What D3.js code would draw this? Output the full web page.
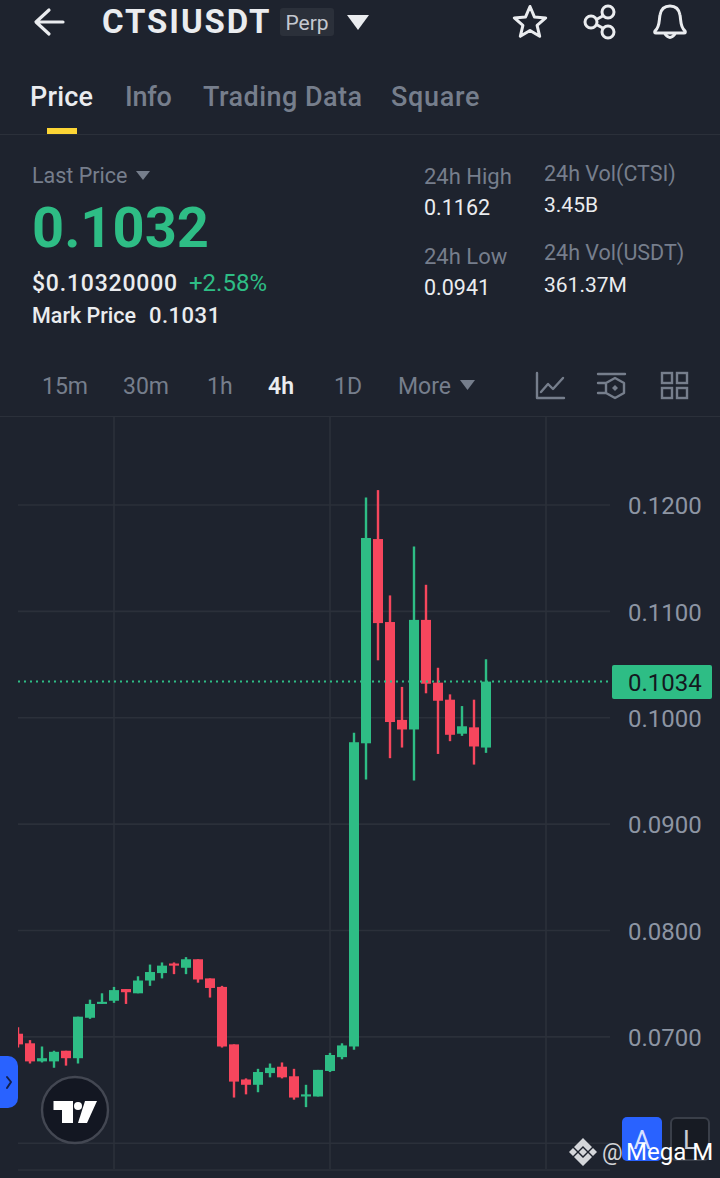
<!DOCTYPE html>
<html><head><meta charset="utf-8">
<script src="https://cdn.jsdelivr.net/npm/d3@7/dist/d3.min.js"></script>
<style>html,body{margin:0;padding:0;background:#1e232e}svg{display:block}text{font-family:Roboto,sans-serif}</style>
</head><body><svg id="c" width="720" height="1178"></svg>
<script>
const opens =[.0703,.0694,.0677,.0677,.0687,.0680,.0718,.0731,.0734,.0745,.0741,.0753,.0760,.0769,.0765,.0773,.0755,.0747,.0693,.0660,.0655,.0666,.0672,.0663,.0644,.0644,.0668,.0681,.0691,.0976,.1168,.1090,.0998,.0989,.1092,.1033,.1017,.0985,.0991,.0972];
const highs =[.0709,.0697,.0691,.0687,.0687,.0719,.0735,.0741,.0747,.0745,.0757,.0768,.0770,.0770,.0775,.0773,.0755,.0748,.0693,.0661,.0670,.0675,.0676,.0670,.0655,.0669,.0685,.0694,.0986,.1207,.1214,.1115,.1029,.1161,.1125,.1047,.1022,.1011,.1017,.1055];
const lows  =[.0690,.0675,.0676,.0671,.0673,.0675,.0717,.0731,.0732,.0731,.0741,.0748,.0755,.0759,.0759,.0751,.0737,.0690,.0643,.0646,.0648,.0662,.0661,.0641,.0634,.0644,.0667,.0679,.0688,.0942,.1054,.0962,.0972,.0941,.1023,.0966,.0978,.0983,.0956,.0967];
const closes=[.0693,.0677,.0680,.0686,.0680,.0719,.0731,.0733,.0744,.0742,.0753,.0761,.0767,.0767,.0773,.0754,.0746,.0691,.0658,.0655,.0667,.0671,.0662,.0643,.0646,.0669,.0683,.0692,.0977,.1169,.1089,.0996,.0989,.1092,.1032,.1016,.0984,.0992,.0973,.1034];
const priceTicks=[.06,.07,.08,.09,.10,.11,.12];
const labelledTicks=[.07,.08,.09,.10,.11,.12];
const lastPrice=.1034;
const tabs=["Price","Info","Trading Data","Square"];
const intervals=["15m","30m","1h","4h","1D","More"];

const GREEN="#2ebd85",RED="#f6465d",GRID="#2b303a",BG="#1e232e",MUTED="#767e8c";
const svg=d3.select("#c");
svg.append("rect").attr("width",720).attr("height",1178).attr("fill",BG);
function T(x,y,s,size,fill,weight,anchor,ls){return svg.append("text").attr("x",x).attr("y",y).text(s).attr("font-size",size).attr("fill",fill).attr("font-weight",weight||400).attr("text-anchor",anchor||"start").attr("letter-spacing",ls||0);}
function P(d,stroke,w,fill){return svg.append("path").attr("d",d).attr("stroke",stroke||"none").attr("stroke-width",w||0).attr("fill",fill||"none").attr("stroke-linecap","round").attr("stroke-linejoin","round");}

// header
P("M63,22H37M49,10L36,22L49,34","#eaecef",3.2);
T(102,33,"CTSIUSDT",33,"#eaecef",700,"start",1.9);
svg.append("rect").attr("x",280).attr("y",8).attr("width",54).attr("height",28).attr("rx",3).attr("fill","#2b303a");
T(307,30,"Perp",21,"#c4c8d0",400,"middle");
P("M347,15H369L358,30Z",null,0,"#eaecef");
P(d3.range(10).map(i=>{const r=i%2?7.5:16.5,a=-Math.PI/2+i*Math.PI/5;return (i?"L":"M")+(530+r*Math.cos(a)).toFixed(1)+","+(23+r*Math.sin(a)).toFixed(1)}).join("")+"Z","#eaecef",3);
P("M608,13L592,22L608,31","#eaecef",3);
[[608,12],[591,22],[608,32]].forEach(c=>svg.append("circle").attr("cx",c[0]).attr("cy",c[1]).attr("r",6).attr("fill",BG).attr("stroke","#eaecef").attr("stroke-width",3));
P("M655,31C660,27 659,20 660,15C661,9 665,6 670,6C675,6 679,9 680,15C681,20 680,27 685,31Q686,33 684,33H656Q654,33 655,31ZM665,34Q670,41 675,34","#eaecef",3);

// tabs
const tabX=[30,125,203,391];
const tabLS=[.2,-.2,.45,.7];
tabs.forEach((t,i)=>T(tabX[i],106,t,27,i?MUTED:"#eaecef",500,"start",tabLS[i]));
svg.append("rect").attr("x",47).attr("y",128).attr("width",30).attr("height",6).attr("fill","#fcd535");
svg.append("rect").attr("x",0).attr("y",134).attr("width",720).attr("height",1).attr("fill",GRID);

// stats
T(32,183,"Last Price",21.5,MUTED);
P("M136,171H150L143,180Z",null,0,MUTED);
T(32,247,"0.1032",56,GREEN,700);
T(32,291,"$0.10320000",23,"#eaecef",500,"start",.8);
T(189,291,"+2.58%",24,GREEN);
T(32,323,"Mark Price",21.5,"#eaecef",500);
T(149,323,"0.1031",22,"#eaecef",500,"start",.5);
T(424,184,"24h High",22,MUTED);T(424,215,"0.1162",21.5,"#eaecef");
T(424,264,"24h Low",22,MUTED);T(424,295,"0.0941",21.5,"#eaecef");
T(544,181,"24h Vol(CTSI)",21.5,MUTED);T(544,212,"3.45B",21,"#eaecef");
T(544,260,"24h Vol(USDT)",21.5,MUTED);T(544,292,"361.37M",21,"#eaecef");

// intervals
const intX=[42,123,207,268,334,398];
intervals.forEach((t,i)=>T(intX[i],394,t,23,i==3?"#eaecef":MUTED,i==3?600:400));
P("M460,380H475L467.5,390Z",null,0,MUTED);
P("M537,373V398H564M541,392L548,384L553,389L563,378",MUTED,2.4);
P("M598,374H625M598,383H606M598,393H606M615,378L624,383V393L615,398L606,393V383Z",MUTED,2.4);
P("M615,385L618,388L615,391L612,388Z",null,0,MUTED);
[[661,372],[676,372],[661,387],[676,387]].forEach(c=>svg.append("rect").attr("x",c[0]+1).attr("y",c[1]+1).attr("width",10).attr("height",10).attr("fill","none").attr("stroke",MUTED).attr("stroke-width",2.4));
svg.append("rect").attr("x",0).attr("y",416).attr("width",720).attr("height",1).attr("fill",GRID);

// chart
const x=d3.scaleLinear().domain([0,39]).range([18,486]);
const y=d3.scaleLinear().domain([.06,.12]).range([1143.3,505]);
const g=svg.append("g");
svg.append("defs").append("clipPath").attr("id","plot").append("rect").attr("x",18).attr("y",417).attr("width",592).attr("height",761);
[8,26,44].forEach(i=>g.append("line").attr("x1",x(i)).attr("x2",x(i)).attr("y1",417).attr("y2",1169).attr("stroke",GRID).attr("stroke-width",1.6));
g.selectAll("line.h").data(priceTicks).join("line").attr("class","h").attr("x1",18).attr("x2",610).attr("y1",d=>y(d)).attr("y2",d=>y(d)).attr("stroke",GRID).attr("stroke-width",1.6);
g.append("line").attr("x1",18).attr("x2",610).attr("y1",1170).attr("y2",1170).attr("stroke",GRID).attr("stroke-width",1.6);

const candles=opens.map((o,i)=>({i,o,h:highs[i],l:lows[i],c:closes[i]}));
const cg=svg.append("g").attr("clip-path","url(#plot)");
const col=d=>d.c>=d.o?GREEN:RED;
cg.selectAll("line").data(candles).join("line").attr("x1",d=>x(d.i)).attr("x2",d=>x(d.i)).attr("y1",d=>y(d.h)).attr("y2",d=>y(d.l)).attr("stroke",col).attr("stroke-width",2.4);
cg.selectAll("rect").data(candles).join("rect").attr("x",d=>x(d.i)-5).attr("width",10).attr("y",d=>y(Math.max(d.o,d.c))).attr("height",d=>Math.max(2,Math.abs(y(d.o)-y(d.c)))).attr("fill",col);

svg.append("line").attr("x1",18).attr("x2",610).attr("y1",y(lastPrice)).attr("y2",y(lastPrice)).attr("stroke",GREEN).attr("stroke-width",2).attr("stroke-dasharray","2 4");

const ax=svg.append("g").attr("transform","translate(616,1)").call(d3.axisRight(y).tickValues(labelledTicks).tickFormat(d3.format(".4f")).tickSize(0).tickPadding(12));
ax.select(".domain").remove();
ax.selectAll("text").attr("font-size",24).attr("font-family","Roboto,sans-serif").attr("fill","#8d95a3");

svg.append("rect").attr("x",612).attr("y",665).attr("width",100).attr("height",34).attr("rx",2).attr("fill",GREEN);
T(628,691,d3.format(".4f")(lastPrice),24,"#14181f");

// side handle
svg.append("rect").attr("x",-10).attr("y",1056).attr("width",28).attr("height",52).attr("rx",10).attr("fill","#2962ff");
P("M7,1077L11,1082L7,1088","#12204d",2);
// TradingView badge
svg.append("circle").attr("cx",75).attr("cy",1110).attr("r",33).attr("fill","#131722").attr("stroke","#434752").attr("stroke-width",2.4);
P("M53.5,1101H73V1123H62V1110H53.5Z",null,0,"#fff");
svg.append("circle").attr("cx",78).attr("cy",1106).attr("r",4).attr("fill","#fff");
P("M85,1101H97L87,1123H78Z",null,0,"#fff");
// buttons
svg.append("rect").attr("x",622).attr("y",1117).attr("width",40).attr("height",44).attr("rx",5).attr("fill","#2962ff");
T(642,1149,"A",26,"#d6e0ff",400,"middle");
svg.append("rect").attr("x",671).attr("y",1118).attr("width",38).attr("height",42).attr("rx",5).attr("fill","#171b23").attr("stroke","#3a3f49").attr("stroke-width",2);
T(690,1149,"L",26,"#c8ccd4",400,"middle");
// watermark
const W="#d4d6da";
P("M583,1138L592,1147L588,1151L583,1146L578,1151L574,1147Z",null,0,W);
P("M583,1166L592,1157L588,1153L583,1158L578,1153L574,1157Z",null,0,W);
[[573,1152],[593,1152],[583,1152]].forEach(c=>P(`M${c[0]},${c[1]-4}L${c[0]+4},${c[1]}L${c[0]},${c[1]+4}L${c[0]-4},${c[1]}Z`,null,0,W));
T(602,1160,"@",23,"#d0d2d6");
T(626,1160,"Mega M",24,"#ffffff");
</script></body></html>
